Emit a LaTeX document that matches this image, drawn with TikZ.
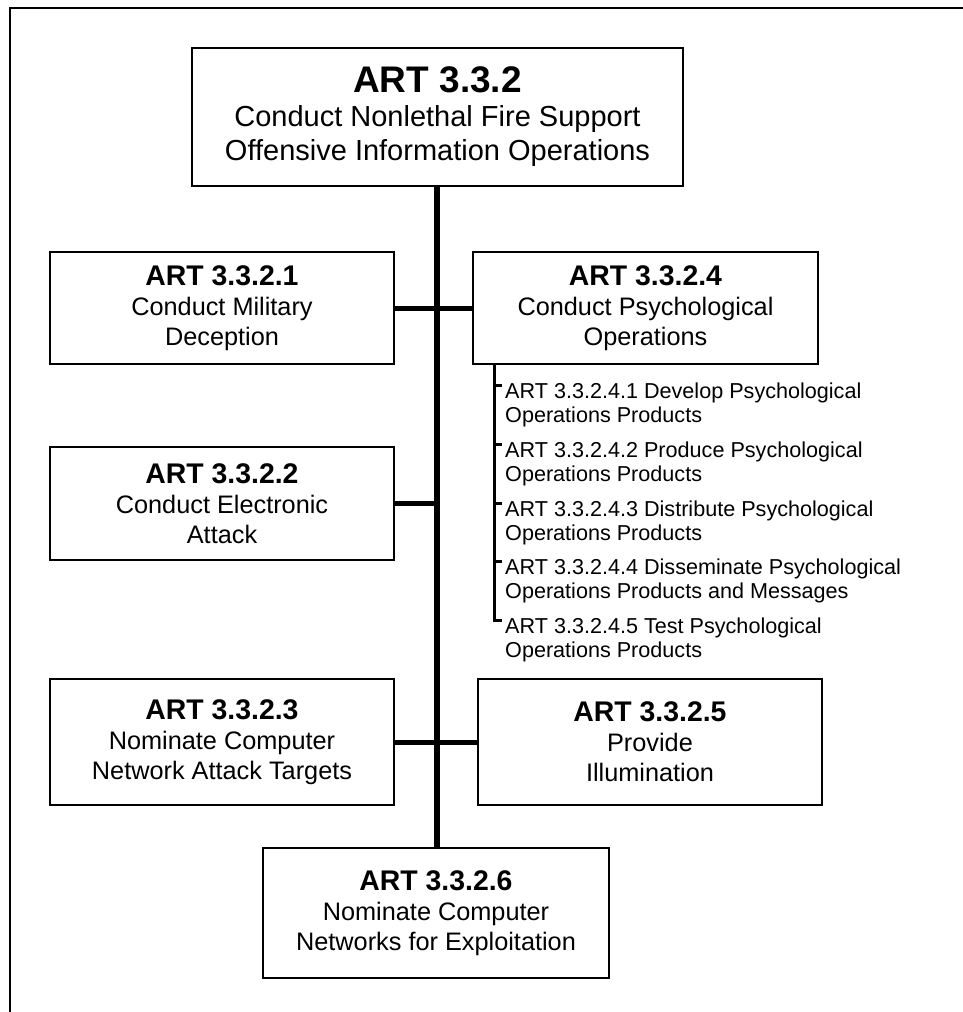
\documentclass[tikz,border=0pt]{standalone}
\usepackage{fontspec}
\setmainfont{Liberation Sans}
\begin{document}
\begin{tikzpicture}[x=1pt,y=-1pt,
  box/.style={draw, line width=2.6pt, rectangle, align=center, inner sep=0pt,
    font=\fontsize{25.3}{30}\selectfont},
  topbox/.style={box, font=\fontsize{29}{34}\selectfont},
  ttl/.style={font=\fontsize{28.4}{30}\selectfont\bfseries},
  trunk/.style={line width=6pt},
  conn/.style={line width=5pt},
  sub/.style={line width=3pt},
  item/.style={align=left, inner sep=0pt, anchor=north west,
    font=\fontsize{21.6}{24}\selectfont},
  frame/.style={line width=2pt}]
\useasboundingbox (0,0) rectangle (963,1012);
\draw[frame] (9.5,1012) -- (9.5,7.5) -- (963,7.5);

\node[topbox, minimum width=491pt, minimum height=138pt] (top) at (437.5,117)
  {{\fontsize{37}{34}\selectfont\bfseries ART 3.3.2}\\Conduct Nonlethal Fire Support\\Offensive Information Operations};

\node[box, minimum width=344pt, minimum height=112pt] (b1) at (222,308)
  {{\fontsize{28.4}{30}\selectfont\bfseries ART 3.3.2.1}\\Conduct Military\\Deception};
\node[box, minimum width=345pt, minimum height=112pt] (b4) at (645.5,308)
  {{\fontsize{28.4}{30}\selectfont\bfseries ART 3.3.2.4}\\Conduct Psychological\\Operations};
\node[box, minimum width=344pt, minimum height=113pt] (b2) at (222,503.5)
  {{\fontsize{28.4}{30}\selectfont\bfseries ART 3.3.2.2}\\Conduct Electronic\\Attack};
\node[box, minimum width=344pt, minimum height=126pt] (b3) at (222,742)
  {{\fontsize{28.4}{30}\selectfont\bfseries ART 3.3.2.3}\\Nominate Computer\\Network Attack Targets};
\node[box, minimum width=344pt, minimum height=126pt] (b5) at (650,742)
  {{\fontsize{28.4}{30}\selectfont\bfseries ART 3.3.2.5}\\Provide\\Illumination};
\node[box, minimum width=346pt, minimum height=130pt] (b6) at (436,913)
  {{\fontsize{28.4}{30}\selectfont\bfseries ART 3.3.2.6}\\Nominate Computer\\Networks for Exploitation};

\node[item] (i1) at (505,383) {ART 3.3.2.4.1 Develop Psychological\\Operations Products};
\node[item] (i2) at (505,442) {ART 3.3.2.4.2 Produce Psychological\\Operations Products};
\node[item] (i3) at (505,501) {ART 3.3.2.4.3 Distribute Psychological\\Operations Products};
\node[item] (i4) at (505,559) {ART 3.3.2.4.4 Disseminate Psychological\\Operations Products and Messages};
\node[item] (i5) at (505,618) {ART 3.3.2.4.5 Test Psychological\\Operations Products};

\coordinate (tx) at (437,0);
\coordinate (sx) at (494,0);
\foreach \i in {1,...,5} {\path (i\i.north west) ++(-3,2) coordinate (t\i);}

\draw[trunk] (top.south -| tx) -- (b6.north -| tx);
\draw[conn] (b1.east) -- (b4.west);
\draw[conn] (b2.east) -- (b2.east -| tx);
\draw[conn] (b3.east) -- (b5.west);

\draw[sub] (b4.south -| sx) |- (t5);
\foreach \i in {1,...,4} {\draw[sub] (sx |- t\i) -- (t\i);}
\end{tikzpicture}
\end{document}
